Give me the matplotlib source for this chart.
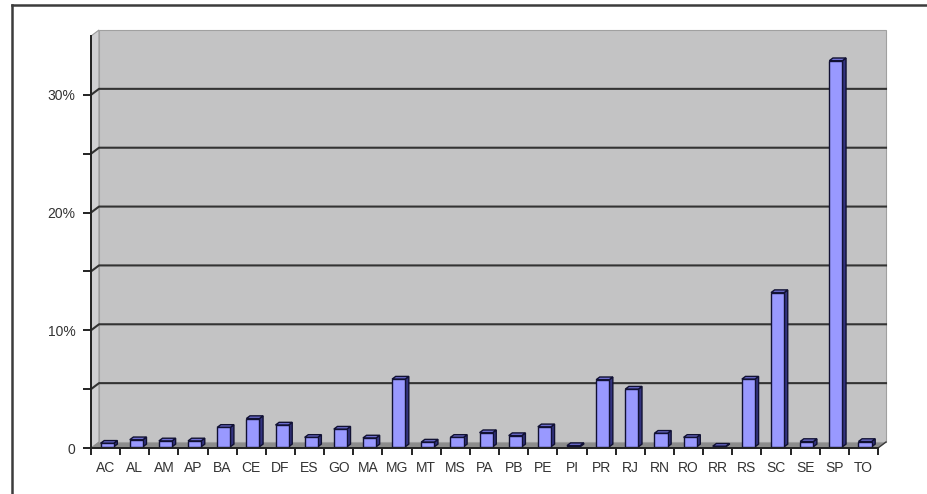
import matplotlib.pyplot as plt
from matplotlib.patches import Polygon
from matplotlib.lines import Line2D
import numpy as np

plt.rcParams['font.family'] = ['Liberation Sans', 'DejaVu Sans']

estados = ["AC", "AL", "AM", "AP", "BA", "CE", "DF", "ES", "GO", "MA", "MG", "MT", "MS", "PA",
           "PB", "PE", "PI", "PR", "RJ", "RN", "RO", "RR", "RS", "SC", "SE", "SP", "TO"]
valores = [0.3, 0.6, 0.5, 0.5, 1.65, 2.4, 1.85, 0.8, 1.5, 0.75, 5.75, 0.4, 0.8, 1.2,
           0.95, 1.7, 0.1, 5.7, 4.9, 1.15, 0.8, 0.05, 5.75, 13.1, 0.45, 32.8, 0.45]
yticks = [0, 10, 20, 30]
ylabels = ["0", "10%", "20%", "30%"]

W, H = 928, 494
fig = plt.figure(figsize=(W / 100, H / 100), dpi=100)
x0px, x1px, y0px, ytop = 91, 878, 448, 36
ax = fig.add_axes([x0px / W, (H - y0px) / H, (x1px - x0px) / W, (y0px - ytop) / H])
n = len(estados)
ax.set_xlim(-0.5, n - 0.5)
ax.set_ylim(0, 35)

# pixel -> dados
ux = (x1px - x0px) / n
uy = (y0px - ytop) / 35.0
ox, oy = 8 / ux, 6 / uy   # profundidade da parede

L, R = -0.5, n - 0.5
# parede lateral, piso, parede de fundo
ax.add_patch(Polygon([(L, 0), (L, 35), (L + ox, 35 + oy), (L + ox, oy)], closed=True,
                     fc="#d0d0d2", ec="#9a9a9a", lw=0.8, clip_on=False, zorder=1))
ax.add_patch(Polygon([(L, 0), (R, 0), (R + ox, oy), (L + ox, oy)], closed=True,
                     fc="#8c8c8c", ec="#8c8c8c", lw=0.5, clip_on=False, zorder=1))
ax.add_patch(Polygon([(L + ox, oy), (R + ox, oy), (R + ox, 35 + oy), (L + ox, 35 + oy)], closed=True,
                     fc="#c3c3c4", ec="#a0a0a0", lw=0.8, clip_on=False, zorder=1))
# linhas de grade
for v in range(5, 35, 5):
    ax.add_line(Line2D([L, L + ox, R + ox], [v, v + oy, v + oy], color="#333333", lw=1.5,
                       clip_on=False, zorder=2))
ax.add_line(Line2D([R, R + ox], [0, oy], color="#3a3a3a", lw=1.0, clip_on=False, zorder=2))

# barras 3D
f0, f1 = 0.2, 0.65
w = 0.45
for i, v in enumerate(valores):
    bx0 = i - w / 2 + f0 * ox
    bx1 = i + w / 2 + f0 * ox
    by0 = f0 * oy
    by1 = v + f0 * oy
    ddx, ddy = (f1 - f0) * ox, (f1 - f0) * oy
    ax.add_patch(Polygon([(bx1, by0), (bx1 + ddx, by0 + ddy), (bx1 + ddx, by1 + ddy), (bx1, by1)],
                         closed=True, fc="#33337f", ec="#111133", lw=1.0, clip_on=False, zorder=3))
    ax.add_patch(Polygon([(bx0, by1), (bx1, by1), (bx1 + ddx, by1 + ddy), (bx0 + ddx, by1 + ddy)],
                         closed=True, fc="#6d6dcf", ec="#111133", lw=1.0, clip_on=False, zorder=3))
    ax.add_patch(Polygon([(bx0, by0), (bx1, by0), (bx1, by1), (bx0, by1)],
                         closed=True, fc="#9999ff", ec="#111133", lw=1.0, clip_on=False, zorder=4))

for s in ["top", "right"]:
    ax.spines[s].set_visible(False)
for s in ["left", "bottom"]:
    ax.spines[s].set_color("#222222")
    ax.spines[s].set_linewidth(1.4)
    ax.spines[s].set_zorder(5)
ax.set_facecolor("none")

ax.set_yticks(yticks)
ax.set_yticklabels(ylabels)
ax.set_yticks([5, 15, 25], minor=True)
ax.tick_params(axis="y", which="both", length=6, width=1.4, color="#222222",
               labelsize=10, labelcolor="#333333", pad=5)
ax.set_xticks(np.arange(n))
ax.set_xticklabels(estados)
ax.set_xticks(np.arange(n + 1) - 0.5, minor=True)
ax.tick_params(axis="x", which="major", length=0, labelsize=10, labelcolor="#333333", pad=9)
ax.tick_params(axis="x", which="minor", length=5, width=1.4, color="#222222")

# moldura
fig.add_artist(Line2D([12 / W, 12 / W], [0, 1 - 5 / H], color="#3c3c3c", lw=1.8))
fig.add_artist(Line2D([12 / W, 1], [1 - 5 / H, 1 - 5 / H], color="#3c3c3c", lw=1.8))

fig.savefig("out.png", dpi=100, facecolor="white")
